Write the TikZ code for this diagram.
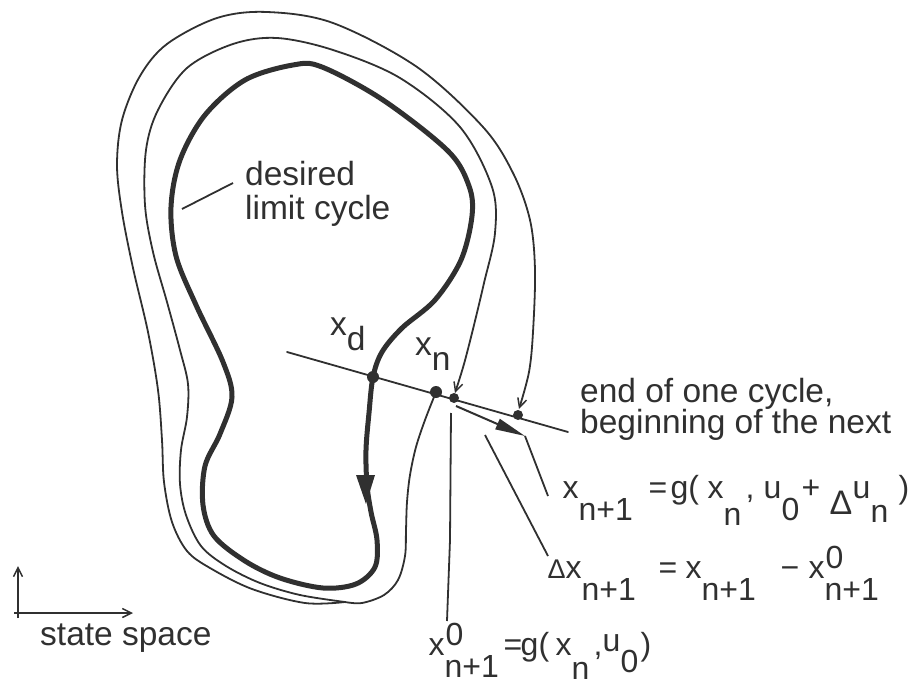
\documentclass[tikz,border=0pt]{standalone}
\usepackage{fontspec}
\setmainfont{Liberation Sans}
\usetikzlibrary{arrows.meta}
\definecolor{ink}{RGB}{48,48,48}
\newcommand{\mysub}[2][0.7em]{\raisebox{-#1}{#2}}
\newcommand{\mysupsub}[2]{\rlap{\kern1pt\raisebox{0.3em}{#1}}\raisebox{-0.7em}{#2}}
\newcommand{\tri}[2]{\raisebox{#2}{\fontsize{#1}{#1}\selectfont Δ}}
\newcommand{\putat}[2]{\makebox[0pt][l]{\hspace{#1}#2}}
\begin{document}
\begin{tikzpicture}[x=1pt,y=-1pt,
  ink, draw=ink,
  lbl/.style={anchor=base west, inner sep=0pt, text=ink, font=\fontsize{33.5}{36}\selectfont},
  eq/.style={anchor=base west, inner sep=0pt, text=ink, font=\fontsize{32}{36}\selectfont},
  traj/.style={line width=1.8pt, line cap=round, line join=round},
  cyc/.style={line width=5pt, line cap=round, line join=round},
  ptr/.style={line width=1.8pt},
  barb/.style={-{Straight Barb[length=9pt,width=9pt,line width=1.5pt]}},
  dot/.style={circle, fill=ink, inner sep=0pt, minimum size=#1}]
\useasboundingbox (0,0) rectangle (921,687);

% key points
\coordinate (xd) at (373,377);
\coordinate (A) at (436,392);
\coordinate (B) at (454,398);
\coordinate (C) at (518,415);
\coordinate (S) at (345,602);
\coordinate (L1) at (287,352);
\coordinate (L2) at (568,432);

% desired limit cycle (thick)
\draw[cyc] plot[smooth cycle, tension=0.55] coordinates {
 (373,377) (369,413) (366,450) (367,485) (371,512) (377,540) (375,567)
 (356,584) (323,588) (280,578) (245,561) (214,536) (203,505) (205,466)
 (220,434) (232,397) (223,362) (196,305) (176,256) (171,207) (180,160)
 (205,115) (245,80) (293,65) (322,67) (383,100) (448,151) (469,186)
 (472,216) (461,260) (435,300) (402,328) (382,352)};
\fill[ink] (356,475) -- (375,475) -- (366,504) -- cycle;

% trajectory from x_n : common part down to S
\draw[traj] plot[smooth, tension=0.55] coordinates {
 (A) (425,420) (416,447) (410,475) (407,502) (406,530) (405,556)
 (398,580) (384,595) (362,603) (S)};

% middle trajectory S -> B
\draw[traj, barb] plot[smooth, tension=0.55] coordinates {
 (S) (300,595) (260,583) (226,566) (201,546) (186,515) (180,484)
 (181,450) (187,417) (188,384) (180,350) (167,302) (153,252) (145,205)
 (146,150) (158,110) (187,68) (233,44) (277,38) (333,50) (400,78)
 (460,127) (492,187) (495,233) (484,283) (474,325) (464,364) (455,393)};

% outer trajectory S -> C
\draw[traj, barb] plot[smooth, tension=0.55] coordinates {
 (S) (305,603) (252,589) (210,568) (187,551) (172,522) (164,482)
 (162,440) (158,390) (148,332) (133,268) (122,212) (117,165) (122,120)
 (140,76) (167,44) (217,18) (267,12) (333,23) (417,67) (483,127)
 (513,173) (530,220) (535,270) (533,332) (529,372) (519,409)};

% section line
\draw[traj] (L1) -- (L2);

% points
\node[dot=12pt] at (xd) {};
\node[dot=12pt] at (A) {};
\node[dot=10pt] at (B) {};
\node[dot=10pt] at (C) {};

% delta x arrow
\coordinate (d0) at (456,406);
\coordinate (d1) at (525,436);
\draw[line width=2pt, -{Triangle[length=30pt,width=11pt]}] (d0) -- (d1);

% labels
\node[lbl] (desired) at (245,186) {desired};
\node[lbl] (limit) at (245,220) {limit cycle};
\draw[ptr] (233,183) -- (182,209);

\node[lbl] (lxd) at (330,335) {x\mysub[0.45em]{d}};
\node[lbl] (lxn) at (415,355) {x\mysub[0.45em]{n}};

\node[lbl] (end1) at (580,402) {end of one cycle,};
\node[lbl] (end2) at (580,433) {beginning of the next};

\node[eq] (eq1) at (562,498) {\putat{0pt}{x\mysub{n+1}}\putat{86pt}{=}\putat{108pt}{g(}\putat{145pt}{x\mysub[0.85em]{n}}\putat{183pt}{,}\putat{201pt}{u\mysub{0}}\putat{239pt}{+}\putat{267pt}{\tri{34pt}{-0.5em}}\putat{290pt}{u\mysub[0.78em]{n}}\putat{336pt}{)}\hspace{346pt}};
\node[eq] (eq2) at (547,578) {\putat{0pt}{\tri{27pt}{0pt}}\putat{18pt}{x\mysub{n+1}}\putat{111pt}{=}\putat{138pt}{x\mysub{n+1}}\putat{233pt}{−}\putat{261pt}{x\mysupsub{0}{n+1}}\hspace{346pt}};
\node[eq] (eq3) at (428,655) {\putat{0pt}{x\mysupsub{0}{n+1}}\putat{75pt}{=}\putat{92pt}{g(}\putat{127pt}{x\mysub[0.75em]{n}}\putat{165pt}{,}\putat{174pt}{\raisebox{4pt}{u}\mysub[0.55em]{0}}\putat{212pt}{)}\hspace{224pt}};

% pointers to labels
\draw[ptr] (548,496) -- (d1);
\draw[ptr] (548,556) -- (485,435);
\draw[ptr] (447,621) -- (450,540) -- (451,413);

% axes
\draw[ptr, barb] (18,618) -- (18,566);
\draw[ptr, barb] (14,613) -- (133,613);
\node[lbl] (ss) at (40,645) {state space};
\end{tikzpicture}
\end{document}
